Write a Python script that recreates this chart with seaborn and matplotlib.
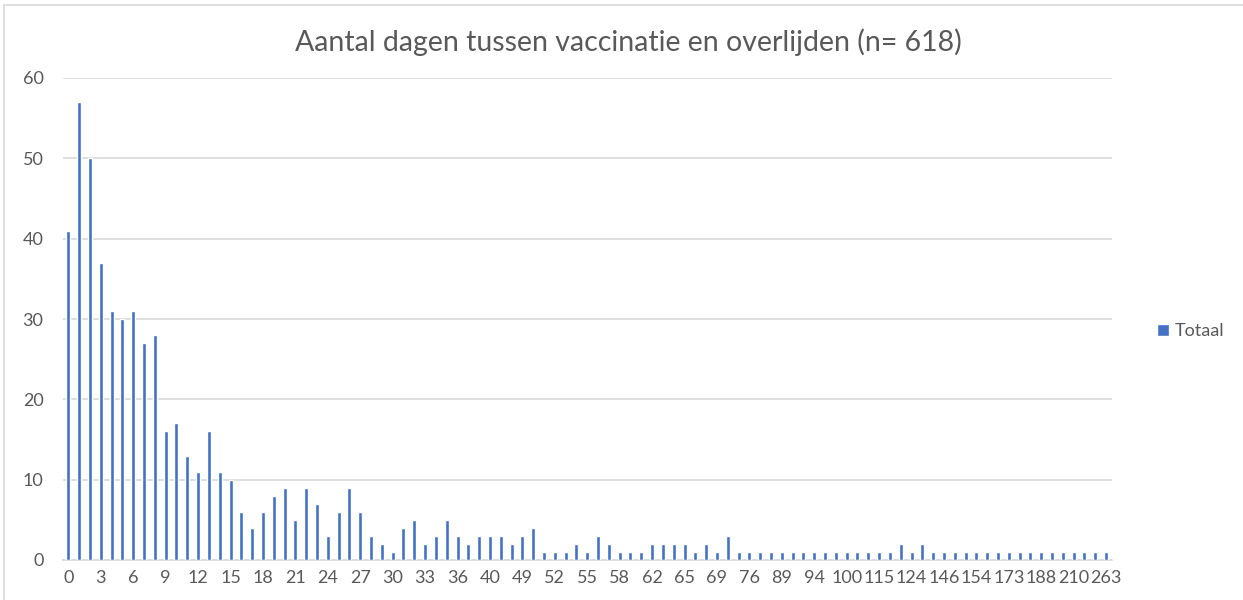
import matplotlib
matplotlib.use("Agg")
import matplotlib.pyplot as plt
import seaborn as sns
import pandas as pd
from matplotlib.lines import Line2D

# Days between vaccination and death (categories present in the data; every 3rd is labelled)
days = [0, 1, 2, 3, 4, 5, 6, 7, 8, 9, 10, 11, 12, 13, 14, 15, 16, 17, 18, 19,
        20, 21, 22, 23, 24, 25, 26, 27, 28, 29, 30, 31, 32, 33, 34, 35, 36, 37, 38, 40,
        42, 45, 49, 50, 51, 52, 53, 54, 55, 56, 57, 58, 59, 61, 62, 63, 64, 65, 66, 68,
        69, 70, 72, 76, 80, 84, 89, 91, 92, 94, 96, 98, 100, 105, 110, 115, 118, 121, 124, 131,
        140, 146, 149, 151, 154, 160, 168, 173, 178, 182, 188, 195, 203, 210, 225, 245, 263]

totaal = [41, 57, 50, 37, 31, 30, 31, 27, 28, 16, 17, 13, 11, 16, 11, 10, 6, 4, 6, 8,
          9, 5, 9, 7, 3, 6, 9, 6, 3, 2, 1, 4, 5, 2, 3, 5, 3, 2, 3, 3,
          3, 2, 3, 4, 1, 1, 1, 2, 1, 3, 2, 1, 1, 1, 2, 2, 2, 2, 1, 2,
          1, 3, 1, 1, 1, 1, 1, 1, 1, 1, 1, 1, 1, 1, 1, 1, 1, 2, 1, 2,
          1, 1, 1, 1, 1, 1, 1, 1, 1, 1, 1, 1, 1, 1, 1, 1, 1]

title = "Aantal dagen tussen vaccinatie en overlijden (n= 618)"
series_name = "Totaal"
y_ticks = [0, 10, 20, 30, 40, 50, 60]

BLUE = "#4472C4"
GRID = "#D9D9D9"
TXT = "#595959"

sns.set_theme(style="white")
plt.rcParams["font.family"] = ["Lato", "DejaVu Sans"]

fig = plt.figure(figsize=(12.43, 6.0), dpi=100)
fig.patch.set_facecolor("white")
ax = fig.add_axes([63 / 1243, 40 / 600, (1111.5 - 63) / 1243, (560 - 78) / 600])

labels = [str(d) for d in days]
df = pd.DataFrame({"dag": labels, "aantal": totaal})
sns.barplot(data=df, x="dag", y="aantal", order=labels, color=BLUE,
            saturation=1, width=0.37, ax=ax, zorder=3)

ax.set_ylim(0, 60)
ax.set_xlim(-0.5, len(days) - 0.5)
ax.set_yticks(y_ticks)
ax.set_yticklabels([str(t) for t in y_ticks])
ax.set_xticks(list(range(0, len(days), 3)))
ax.set_xticklabels(labels[::3])
ax.set_xlabel("")
ax.set_ylabel("")
ax.tick_params(axis="both", length=0, colors=TXT, labelsize=13)
ax.tick_params(axis="x", pad=7)
ax.tick_params(axis="y", pad=14)
ax.grid(axis="y", color=GRID, linewidth=1.2, zorder=0)
ax.grid(axis="x", visible=False)
for s in ["top", "right", "left"]:
    ax.spines[s].set_visible(False)
ax.spines["bottom"].set_color(GRID)
ax.spines["bottom"].set_linewidth(1.2)
ax.set_axisbelow(True)

fig.text(628 / 1243, 1 - 42 / 600, title, ha="center", va="center",
         fontsize=20.5, color=TXT)

ax.legend(handles=[ax.containers[0]], labels=[series_name], loc="center left",
          bbox_to_anchor=(1141 / 1243, 1 - 331 / 600), bbox_transform=fig.transFigure,
          frameon=False, handlelength=0.65, handleheight=0.65, handletextpad=0.3,
          fontsize=13, labelcolor=TXT)

# outer chart border
fig.add_artist(Line2D([4 / 1243, 1.0], [1 - 5 / 600, 1 - 5 / 600],
                      transform=fig.transFigure, color=GRID, linewidth=1.2))
fig.add_artist(Line2D([4 / 1243, 4 / 1243], [0, 1 - 5 / 600],
                      transform=fig.transFigure, color=GRID, linewidth=1.2))

fig.savefig("out.png", dpi=100)
